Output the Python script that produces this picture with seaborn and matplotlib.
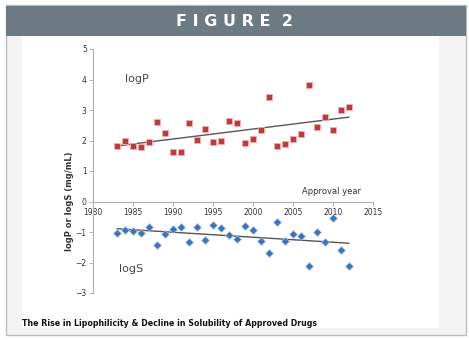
import numpy as np
import pandas as pd
import matplotlib
matplotlib.use("Agg")
import matplotlib.pyplot as plt
from matplotlib.patches import Rectangle
import seaborn as sns

# Approval years and the two descriptors per year
years = list(range(1983, 2013))
logp = [1.83, 1.99, 1.83, 1.79, 1.94, 2.61, 2.26, 1.63, 1.63, 2.59,
        2.02, 2.37, 1.94, 1.98, 2.64, 2.57, 1.92, 2.06, 2.33, 3.44,
        1.81, 1.88, 2.05, 2.21, 3.82, 2.45, 2.77, 2.36, 3.01, 3.09]
logs = [-1.02, -0.92, -0.98, -1.02, -0.84, -1.42, -1.07, -0.89, -0.83, -1.33,
        -0.83, -1.26, -0.77, -0.86, -1.11, -1.22, -0.79, -0.93, -1.30, -1.69,
        -0.66, -1.29, -1.07, -1.13, -2.11, -1.01, -1.33, -0.54, -1.58, -2.12]
x_ticks = [1980, 1985, 1990, 1995, 2000, 2005, 2010, 2015]
y_ticks = [-3, -2, -1, 0, 1, 2, 3, 4, 5]

df = pd.DataFrame({"year": years, "logP": logp, "logS": logs})

sns.set_theme(style="white")
plt.rcParams["font.family"] = ["DejaVu Sans"]

fig = plt.figure(figsize=(4.69, 3.40), dpi=100)
fig.patch.set_facecolor("white")

# Frame, panel and header banner
fig.add_artist(Rectangle((6 / 469, 5 / 340), 460 / 469, 330 / 340, transform=fig.transFigure,
                         facecolor="#f3f3f3", edgecolor="#b9bec2", lw=1.0, zorder=0))
fig.add_artist(Rectangle((22 / 469, 12 / 340), 417 / 469, 292 / 340, transform=fig.transFigure,
                         facecolor="white", edgecolor="none", zorder=0))
fig.add_artist(Rectangle((6 / 469, 304 / 340), 460 / 469, 30 / 340, transform=fig.transFigure,
                         facecolor="#6c7a84", edgecolor="none", zorder=1))
fig.text(0.5, 319 / 340, "F I G U R E  2", color="white", fontsize=11.5, fontweight="bold",
         ha="center", va="center")
fig.text(22 / 469, 17 / 340, "The Rise in Lipophilicity & Decline in Solubility of Approved Drugs",
         fontsize=6.3, fontweight="bold", fontstretch="condensed", ha="left", va="center",
         color="#111111", family=["Liberation Sans Narrow", "DejaVu Sans"])

ax = fig.add_axes([93 / 469, 47 / 340, 280 / 469, 244 / 340])
ax.set_facecolor("none")

sns.scatterplot(data=df, x="year", y="logP", ax=ax, marker="s", s=22,
                color="#c0393b", edgecolor="#f0b0b0", linewidth=0.6, zorder=3)
sns.scatterplot(data=df, x="year", y="logS", ax=ax, marker="D", s=16,
                color="#3b72bb", edgecolor="#a8c4e8", linewidth=0.5, zorder=3)
sns.regplot(data=df, x="year", y="logP", ax=ax, scatter=False, ci=None,
            line_kws={"color": "#555555", "lw": 1.0, "zorder": 2})
sns.regplot(data=df, x="year", y="logS", ax=ax, scatter=False, ci=None,
            line_kws={"color": "#555555", "lw": 1.0, "zorder": 2})

ax.set_xlim(1980, 2015)
ax.set_ylim(-3, 5)
ax.set_xticks(x_ticks)
ax.set_yticks(y_ticks)
ax.set_xlabel("")
ax.set_ylabel("")

for side in ("top", "right"):
    ax.spines[side].set_visible(False)
ax.spines["left"].set_position(("data", 1980))
ax.spines["bottom"].set_position(("data", 0))
for side in ("left", "bottom"):
    ax.spines[side].set_color("#b0b0b0")
    ax.spines[side].set_linewidth(0.8)

ax.tick_params(axis="both", which="major", direction="out", length=3, width=0.7,
               color="#b0b0b0", labelsize=5.5, labelcolor="#333333", pad=1.5)
ax.tick_params(axis="x", bottom=True)
ax.tick_params(axis="y", left=True)

ax.text(1984.0, 4.0, "logP", fontsize=8, color="#444444", va="center", ha="left")
ax.text(1983.3, -2.2, "logS", fontsize=8, color="#444444", va="center", ha="left")
ax.text(2013.5, 0.33, "Approval year", fontsize=6, color="#333333", va="center", ha="right")
fig.text(70 / 469, (340 - 201) / 340, "logP or logS (mg/mL)", rotation=90, fontsize=6,
         fontweight="bold", color="#333333", ha="center", va="center")

fig.savefig("out.png", dpi=100)
